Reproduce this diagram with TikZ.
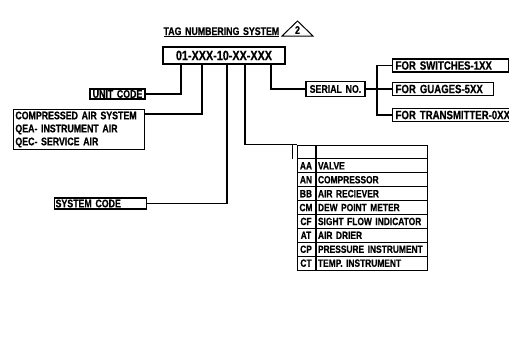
\documentclass[tikz,border=0pt]{standalone}
\usepackage{fontspec}
\setmainfont{Liberation Sans}[FakeStretch=0.8, WordSpace=1.5, BoldFeatures={FakeBold=0.6}]
\usetikzlibrary{positioning, calc}

\begin{document}
\begin{tikzpicture}[
    x=1pt, y=-1pt,
    wire/.style={line width=1.2pt},
    tagbox/.style={draw, line width=1.2pt, inner sep=1pt, font=\bfseries\fontsize{11}{13}\selectfont},
    leftbox/.style={tagbox, align=left, anchor=west},
    cell/.style={draw, line width=1pt, minimum height=13.9pt, inner xsep=2pt, inner ysep=0pt, font=\bfseries\fontsize{10.5}{12}\selectfont}
]
    \useasboundingbox (0,0) rectangle (509,338);

    % Heading
    \node[font=\bfseries\fontsize{11}{13}\selectfont, anchor=base west] (title) at (160,35) {\underline{TAG NUMBERING SYSTEM}};
    \draw[line width=1pt] (282,36) -- (297.5,21) -- (313,36) -- cycle;
    \node[font=\bfseries\fontsize{11}{13}\selectfont] (rev) at (297.5,30) {2};

    % Tag number
    \node[tagbox, minimum width=122pt, minimum height=17pt, font=\bfseries\fontsize{13.5}{15}\selectfont] (tag) at (224,55.5) {01-XXX-10-XX-XXX};
    \foreach \nm/\xx in {unit/181, air/202, sys/227, eq/245, ser/271}
        \coordinate (tap-\nm) at (\xx,0 |- tag.south);

    % Left side
    \node[tagbox, minimum width=55pt, minimum height=10pt] (unit) at (117.5,94) {UNIT CODE};
    \node[tagbox, anchor=north east, align=left, text width=127pt, inner sep=2pt] (air) at (145,109) {\mbox{COMPRESSED AIR SYSTEM}\\\mbox{QEA- INSTRUMENT AIR}\\\mbox{QEC- SERVICE AIR}};
    \node[leftbox, text width=90pt, minimum height=11pt] (sys) at (54,203.5) {\mbox{SYSTEM CODE}};

    % Right side
    \node[tagbox, minimum width=59pt, minimum height=15pt] (serial) at (335.5,89) {SERIAL NO.};
    \node[leftbox, text width=110pt, minimum height=13pt, inner xsep=3pt, font=\bfseries\fontsize{12}{13}\selectfont] (sw) at (392,65.5) {\mbox{FOR SWITCHES-1XX}};
    \node[leftbox, text width=95pt, minimum height=13pt, inner xsep=3pt, font=\bfseries\fontsize{12}{13}\selectfont] (gu) at (392,89) {\mbox{FOR GUAGES-5XX}};
    \node[leftbox, text width=132pt, minimum height=13pt, inner xsep=3pt, font=\bfseries\fontsize{12}{13}\selectfont] (tx) at (392,115) {\mbox{FOR TRANSMITTER-0XX}};
    \coordinate (fork) at (377,0 |- serial.east);

    % Equipment table
    \node[cell, text width=14pt, align=center] (c0) at (306,151.95) {};
    \node[cell, text width=107pt, align=left, anchor=west] (d0) at (c0.east) {};
    \foreach \cd/\txt [count=\i] in {AA/VALVE, AN/COMPRESSOR, BB/AIR RECIEVER, CM/DEW POINT METER,
        CF/SIGHT FLOW INDICATOR, AT/AIR DRIER, CP/PRESSURE INSTRUMENT, CT/TEMP. INSTRUMENT} {
        \node[cell, text width=14pt, align=center] (c\i) at (306,{151.95+13.9*\i}) {\cd};
        \node[cell, text width=107pt, align=left, anchor=west] (d\i) at (c\i.east) {\mbox{\txt}};
    }

    % Connectors
    \draw[wire] (unit.east) -| (tap-unit);
    \draw[wire] ([yshift=-5pt]air.north east) -| (tap-air);
    \draw[wire] (sys.east) -| (tap-sys);
    \draw[wire] (tap-eq) |- (c0.north west);
    \draw[wire] ([xshift=-4pt]c0.north west) -- ([xshift=-4pt]c0.south west);
    \draw[wire] (tap-ser) |- (serial.west);
    \draw[wire] (serial.east) -- (gu.west);
    \draw[wire] (sw.west) -| (fork) |- (tx.west);
\end{tikzpicture}
\end{document}
